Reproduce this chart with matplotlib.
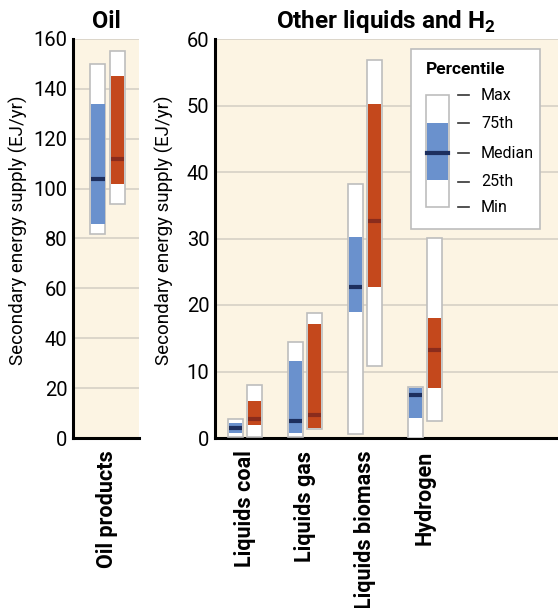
import matplotlib
matplotlib.use('Agg')
import matplotlib.pyplot as plt
from matplotlib.patches import Rectangle

plt.rcParams['font.family'] = ['Roboto', 'DejaVu Sans']
plt.rcParams['mathtext.fontset'] = 'custom'
plt.rcParams['mathtext.bf'] = 'Roboto:bold'

# percentile values (EJ/yr): min, 25th, median, 75th, max
oil_cats = ['Oil products']
oil_blue = [[82, 86, 104, 134, 150]]
oil_red = [[94, 102, 112, 145, 155]]

other_cats = ['Liquids coal', 'Liquids gas', 'Liquids biomass', 'Hydrogen']
other_blue = [[0.1, 0.8, 1.5, 2.3, 2.8],
              [0.2, 0.8, 2.5, 11.6, 14.4],
              [0.6, 18.9, 22.7, 30.2, 38.2],
              [0.0, 3.0, 6.5, 7.5, 7.6]]
other_red = [[0.1, 1.9, 2.9, 5.6, 7.9],
             [1.4, 1.5, 3.4, 17.1, 18.8],
             [10.9, 22.7, 32.7, 50.2, 56.9],
             [2.6, 7.5, 13.3, 18.0, 30.1]]

BG = '#fcf4e3'
BLUE = '#6a91cd'
BLUE_MED = '#1d2f5e'
RED = '#c4481c'
RED_MED = '#8a2c1c'
EDGE = '#bdbdbd'
GRID = '#d6d1c6'

W = 0.25
OFF = 0.16

fig = plt.figure(figsize=(5.58, 6.08), dpi=100)
ax1 = fig.add_axes([73/558, 1-438/608, 66/558, 399/608])
ax2 = fig.add_axes([215/558, 1-438/608, 343/558, 399/608])


def draw_boxes(ax, vals, x, fill, med):
    for xi, v in zip(x, vals):
        lo, q1, md, q3, hi = v
        ax.bar(xi, hi-lo, bottom=lo, width=W, color='white', edgecolor=EDGE,
               linewidth=1.2, zorder=3)
        ax.bar(xi, q3-q1, bottom=q1, width=W-0.03, color=fill, linewidth=0, zorder=4)
        ax.hlines(md, xi-(W-0.03)/2, xi+(W-0.03)/2, color=med, linewidth=3, zorder=5)


def style(ax, ymax, step):
    ax.set_facecolor(BG)
    ax.set_ylim(0, ymax)
    ax.set_yticks(range(0, ymax+1, step))
    ax.grid(axis='y', color=GRID, linewidth=1.2, zorder=0)
    ax.set_axisbelow(True)
    for s in ['top', 'right']:
        ax.spines[s].set_visible(False)
    for s in ['left', 'bottom']:
        ax.spines[s].set_linewidth(2.2)
    ax.tick_params(length=0, labelsize=14.5, pad=4)
    ax.tick_params(axis='x', pad=9)
    for lab in ax.get_xticklabels():
        lab.set_rotation(90)
        lab.set_fontweight('bold')
        lab.set_va('top')
        lab.set_fontsize(15.5)


x1 = list(range(len(oil_cats)))
draw_boxes(ax1, oil_blue, [i-OFF for i in x1], BLUE, BLUE_MED)
draw_boxes(ax1, oil_red, [i+OFF for i in x1], RED, RED_MED)
ax1.set_xticks(x1)
ax1.set_xticklabels(oil_cats)
ax1.set_xlim(-0.575, 0.525)
style(ax1, 160, 20)
ax1.set_title('Oil', fontsize=17, fontweight='bold', pad=8)

x2 = list(range(len(other_cats)))
draw_boxes(ax2, other_blue, [i-OFF for i in x2], BLUE, BLUE_MED)
draw_boxes(ax2, other_red, [i+OFF for i in x2], RED, RED_MED)
ax2.set_xticks(x2)
ax2.set_xticklabels(other_cats)
ax2.set_xlim(-0.5, 5.22)
style(ax2, 60, 10)
ax2.set_title('Other liquids and H$_\\mathbf{2}$', fontsize=17.5, fontweight='bold', pad=8)

for xl in [18, 164]:
    fig.text(xl/558, 1-230/608, 'Secondary energy supply (EJ/yr)', rotation=90,
             ha='center', va='center', fontsize=13.5)

# legend drawn as a small key inside the right panel
def fx(px):
    return (px-215)/343


def fy(py):
    return (438-py)/399

tr = ax2.transAxes
ax2.add_patch(Rectangle((fx(411), fy(229)), fx(540)-fx(411), fy(49)-fy(229),
                        transform=tr, facecolor='white', edgecolor='#bdbdbd',
                        linewidth=1.2, zorder=6))
ax2.text(fx(426), fy(70), 'Percentile', transform=tr, fontsize=12.5,
         fontweight='bold', va='center', ha='left', zorder=7)
ax2.add_patch(Rectangle((fx(426), fy(207)), fx(449)-fx(426), fy(95)-fy(207),
                        transform=tr, facecolor='white', edgecolor=EDGE,
                        linewidth=1.2, zorder=7))
ax2.add_patch(Rectangle((fx(427), fy(180)), fx(448)-fx(427), fy(123)-fy(180),
                        transform=tr, facecolor=BLUE, linewidth=0, zorder=8))
ax2.plot([fx(427), fx(448)], [fy(153), fy(153)], transform=tr, color=BLUE_MED,
         linewidth=3, zorder=9)
for lab, py in zip(['Max', '75th', 'Median', '25th', 'Min'], [95, 123, 153, 182, 207]):
    ax2.plot([fx(458), fx(469)], [fy(py), fy(py)], transform=tr, color='#333333',
             linewidth=1.2, zorder=8)
    ax2.text(fx(481), fy(py), lab, transform=tr, fontsize=11.5, va='center',
             ha='left', zorder=8)

fig.savefig('out.png', dpi=100)
